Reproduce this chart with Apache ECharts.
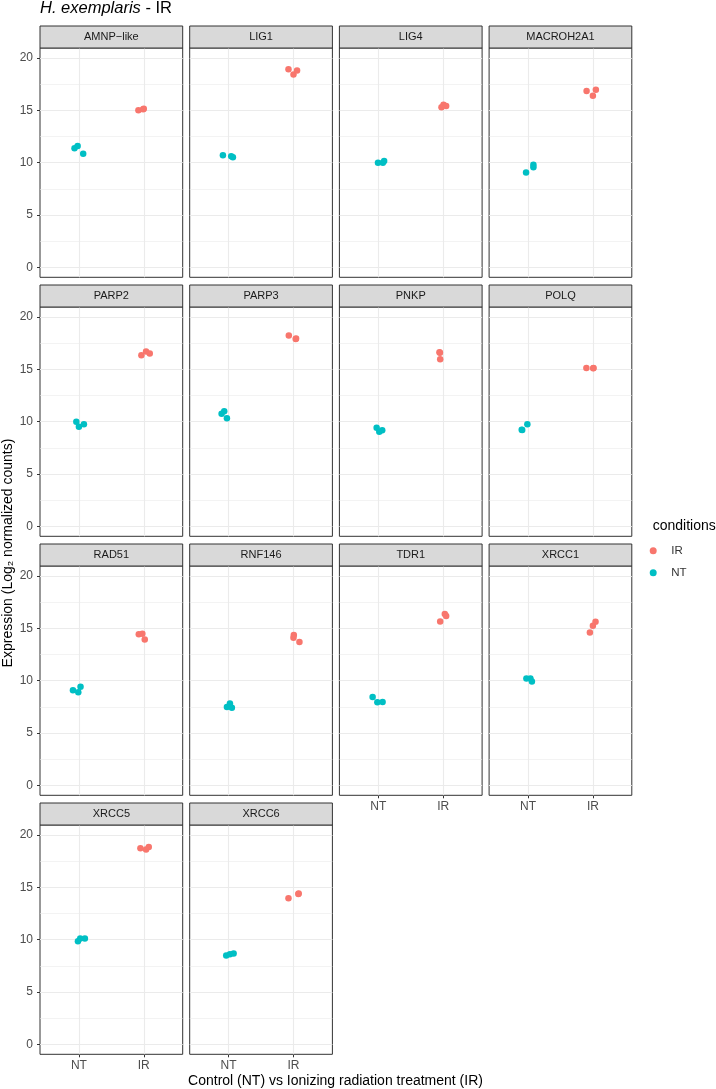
<!DOCTYPE html>
<html><head><meta charset="utf-8">
<script src="https://cdn.jsdelivr.net/npm/echarts@6/dist/echarts.min.js"></script>
<style>html,body{margin:0;padding:0;background:#fff}#c{width:716px;height:1089px}</style>
</head><body><div id="c"></div><script>
// ---- data ----
const genes = ['AMNP\u2212like','LIG1','LIG4','MACROH2A1','PARP2','PARP3','PNKP','POLQ','RAD51','RNF146','TDR1','XRCC1','XRCC5','XRCC6'];
const xCategories = ['NT','IR'];
const conditions = ['IR','NT'];
const yTicks = [0,5,10,15,20];
const yMinorTicks = [2.5,7.5,12.5,17.5];
const ntValues = [
  [11.38,11.60,10.86],[10.71,10.61,10.52],[10.00,10.00,10.16],[9.05,9.81,9.56],
  [9.99,9.51,9.76],[10.76,11.00,10.33],[9.41,9.03,9.19],[9.22,9.76,9.20],
  [9.08,8.89,9.41],[7.49,7.81,7.42],[8.45,7.93,7.97],[10.20,10.20,9.91],
  [9.85,10.11,10.11],[8.49,8.61,8.68]
];
const ntJitter = [
  [-0.068,-0.020,0.066],[-0.088,0.040,0.066],[-0.005,0.070,0.090],[-0.030,0.083,0.083],
  [-0.040,0.000,0.077],[-0.108,-0.068,-0.026],[-0.026,0.015,0.060],[-0.097,-0.010,-0.090],
  [-0.092,-0.010,0.025],[-0.026,0.020,0.050],[-0.088,-0.015,0.066],[-0.025,0.037,0.060],
  [-0.015,0.020,0.092],[-0.037,0.020,0.077]
];
const irValues = [
  [15.00,15.10,15.15],[18.92,18.41,18.79],[15.29,15.54,15.42],[16.85,16.40,16.97],
  [16.34,16.69,16.50],[18.22,17.90,17.93],[16.62,15.95,16.58],[15.12,15.12,15.10],
  [14.44,14.48,13.94],[14.35,14.10,13.68],[15.66,16.36,16.17],[14.61,15.25,15.63],
  [18.72,18.60,18.86],[13.95,14.40,14.35]
];
const irJitter = [
  [-0.083,-0.010,0.000],[-0.077,0.000,0.055],[-0.026,0.005,0.046],[-0.097,0.000,0.046],
  [-0.037,0.035,0.092],[-0.072,0.035,0.040],[-0.057,-0.046,-0.050],[-0.100,0.010,0.005],
  [-0.077,-0.022,0.015],[0.005,0.000,0.092],[-0.046,0.025,0.046],[-0.046,0.000,0.041],
  [-0.052,0.035,0.077],[-0.077,0.080,0.075]
];
const conditionColors = {IR:'#F8766D', NT:'#00BFC4'};

// ---- layout ----
const FONT = '"Liberation Sans", Arial, sans-serif';
const L0 = 40, COLSTEP = 149.7, PW = 142.7, T0 = 48, ROWSTEP = 259, PH = 229.3, STRIP = 22;
const YMIN = -0.95, YMAX = 20.95, XMIN = 0.4, XMAX = 2.6;

const grid = [], xAxis = [], yAxis = [], series = [], graphic = [];
genes.forEach((g, i) => {
  const r = Math.floor(i / 4), c = i % 4;
  const left = L0 + c * COLSTEP, top = T0 + r * ROWSTEP;
  const hasBelow = i + 4 < genes.length;
  grid.push({left: left, top: top, width: PW, height: PH, show: true, borderColor: '#333333', borderWidth: 1, backgroundColor: '#ffffff', containLabel: false});
  const xVals = xCategories.map((_, k) => k + 1);
  xAxis.push({type: 'value', gridIndex: i, min: XMIN, max: XMAX,
    axisLine: {show: false, onZero: false}, splitLine: {show: false},
    axisTick: {show: !hasBelow, length: 3, lineStyle: {color: '#333333'}, customValues: xVals},
    axisLabel: {show: !hasBelow, customValues: xVals, formatter: v => xCategories[Math.round(v) - 1], color: '#4D4D4D', fontSize: 12, fontFamily: FONT, margin: 5}});
  yAxis.push({type: 'value', gridIndex: i, min: YMIN, max: YMAX,
    axisLine: {show: false, onZero: false}, splitLine: {show: false},
    axisTick: {show: c === 0, length: 3, lineStyle: {color: '#333333'}, customValues: yTicks},
    axisLabel: {show: c === 0, customValues: yTicks, color: '#4D4D4D', fontSize: 12, fontFamily: FONT, margin: 7}});
  // gridlines
  const gl = [];
  yMinorTicks.forEach(v => gl.push({yAxis: v, lineStyle: {color: '#EBEBEB', width: 0.6, type: 'solid'}}));
  yTicks.forEach(v => gl.push({yAxis: v, lineStyle: {color: '#EBEBEB', width: 1.1, type: 'solid'}}));
  xVals.forEach(v => gl.push({xAxis: v, lineStyle: {color: '#EBEBEB', width: 1.1, type: 'solid'}}));
  series.push({type: 'scatter', xAxisIndex: i, yAxisIndex: i, data: [], silent: true, z: 1,
    markLine: {silent: true, z: 1, symbol: 'none', animation: false, label: {show: false}, emphasis: {disabled: true}, data: gl}});
  conditions.forEach(cond => {
    const vals = cond === 'IR' ? irValues[i] : ntValues[i];
    const jit = cond === 'IR' ? irJitter[i] : ntJitter[i];
    const base = xCategories.indexOf(cond) + 1;
    series.push({name: cond, type: 'scatter', xAxisIndex: i, yAxisIndex: i, symbolSize: 6.5, z: 6,
      itemStyle: {color: conditionColors[cond], opacity: 1, borderWidth: 0, borderColor: 'transparent'},
      emphasis: {disabled: true},
      data: vals.map((v, k) => [base + jit[k], v])});
  });
  // strip
  graphic.push({type: 'rect', shape: {x: left, y: top - STRIP, width: PW, height: STRIP}, style: {fill: '#D9D9D9', stroke: '#333333', lineWidth: 1}, z: 10});
  graphic.push({type: 'text', x: left + PW / 2, y: top - STRIP / 2, z: 11,
    style: {text: g, fill: '#1A1A1A', font: '11px ' + FONT, textAlign: 'center', textVerticalAlign: 'middle', align: 'center', verticalAlign: 'middle'}});
});

graphic.push({type: 'text', x: 8, y: 553, rotation: Math.PI / 2, z: 11,
  style: {text: 'Expression (Log\u2082 normalized counts)', fill: '#000000', font: '14px ' + FONT, textAlign: 'center', textVerticalAlign: 'middle', align: 'center', verticalAlign: 'middle'}});
graphic.push({type: 'text', x: 335.5, y: 1081.5, z: 11,
  style: {text: 'Control (NT) vs Ionizing radiation treatment (IR)', fill: '#000000', font: '14px ' + FONT, textAlign: 'center', textVerticalAlign: 'middle', align: 'center', verticalAlign: 'middle'}});

const option = {
  animation: false,
  backgroundColor: '#ffffff',
  title: [
    {left: 40, top: 0, padding: 0, text: '{i|H. exemplaris} - IR',
      textStyle: {fontSize: 16.5, fontFamily: FONT, color: '#000000', fontWeight: 'normal',
        rich: {i: {fontStyle: 'italic', fontSize: 16.5, fontFamily: FONT, color: '#000000'}}}},
    {left: 652.7, top: 519, padding: 0, text: 'conditions',
      textStyle: {fontSize: 14, fontFamily: FONT, color: '#000000', fontWeight: 'normal'}}
  ],
  legend: {data: conditions, orient: 'vertical', left: 649.7, top: 543.7, padding: 0,
    itemWidth: 26, itemHeight: 7, itemGap: 8, icon: 'circle', selectedMode: false,
    itemStyle: {borderWidth: 0},
    textStyle: {fontSize: 11.5, color: '#333333', fontFamily: FONT, lineHeight: 14}},
  grid: grid, xAxis: xAxis, yAxis: yAxis, series: series, graphic: graphic
};
const chart = echarts.init(document.getElementById('c'), null, {renderer: 'canvas'});
chart.setOption(option);
</script></body></html>
